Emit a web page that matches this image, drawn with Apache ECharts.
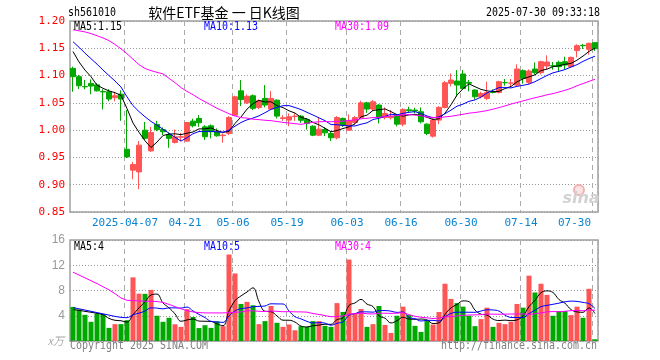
<!DOCTYPE html>
<html><head><meta charset="utf-8">
<script src="https://cdn.jsdelivr.net/npm/echarts@6/dist/echarts.min.js"></script>
<style>html,body{margin:0;padding:0;background:#fff}#c{width:660px;height:360px}</style>
</head><body><div id="c"></div>
<script>
const dates = ['2025-03-24','2025-03-25','2025-03-26','2025-03-27','2025-03-28','2025-03-31','2025-04-01','2025-04-02','2025-04-03','2025-04-07','2025-04-08','2025-04-09','2025-04-10','2025-04-11','2025-04-14','2025-04-15','2025-04-16','2025-04-17','2025-04-18','2025-04-21','2025-04-22','2025-04-23','2025-04-24','2025-04-25','2025-04-28','2025-04-29','2025-04-30','2025-05-06','2025-05-07','2025-05-08','2025-05-09','2025-05-12','2025-05-13','2025-05-14','2025-05-15','2025-05-16','2025-05-19','2025-05-20','2025-05-21','2025-05-22','2025-05-23','2025-05-26','2025-05-27','2025-05-28','2025-05-29','2025-05-30','2025-06-03','2025-06-04','2025-06-05','2025-06-06','2025-06-09','2025-06-10','2025-06-11','2025-06-12','2025-06-13','2025-06-16','2025-06-17','2025-06-18','2025-06-19','2025-06-20','2025-06-23','2025-06-24','2025-06-25','2025-06-26','2025-06-27','2025-06-30','2025-07-01','2025-07-02','2025-07-03','2025-07-04','2025-07-07','2025-07-08','2025-07-09','2025-07-10','2025-07-11','2025-07-14','2025-07-15','2025-07-16','2025-07-17','2025-07-18','2025-07-21','2025-07-22','2025-07-23','2025-07-24','2025-07-25','2025-07-28','2025-07-29','2025-07-30'];

const openP = [1.1132,1.0979,1.0798,1.0857,1.0830,1.0710,1.0704,1.0595,1.0660,0.9650,
0.9266,0.9235,1.0000,0.9620,1.0104,1.0010,0.9920,0.9774,0.9870,0.9800,
1.0165,1.0214,1.0060,1.0080,0.9970,0.9900,0.9940,1.0275,1.0720,1.0500,
1.0630,1.0416,1.0581,1.0386,1.0550,1.0214,1.0184,1.0250,1.0257,1.0196,
1.0073,0.9908,1.0012,0.9939,0.9860,1.0214,1.0000,1.0140,1.0233,1.0500,
1.0386,1.0460,1.0233,1.0226,1.0275,1.0110,1.0373,1.0367,1.0337,1.0110,
0.9890,1.0184,1.0416,1.0857,1.0900,1.1029,1.0875,1.0735,1.0612,1.0580,
1.0704,1.0692,1.0870,1.0860,1.0826,1.1090,1.0875,1.1120,1.1053,1.1175,
1.1181,1.1242,1.1255,1.1163,1.1457,1.1554,1.1481,1.1603];

const closeP = [1.0979,1.0814,1.0795,1.0808,1.0720,1.0700,1.0570,1.0630,1.0570,0.9510,
0.9370,0.9725,0.9850,0.9957,1.0010,0.9970,0.9850,0.9878,0.9880,1.0140,
1.0080,1.0135,0.9880,0.9970,0.9896,0.9910,1.0230,1.0610,1.0560,1.0620,
1.0400,1.0540,1.0460,1.0581,1.0257,1.0226,1.0245,1.0257,1.0180,1.0120,
0.9908,1.0018,0.9950,0.9860,1.0230,1.0090,1.0170,1.0230,1.0500,1.0386,
1.0520,1.0233,1.0306,1.0250,1.0110,1.0380,1.0355,1.0350,1.0153,0.9939,
1.0184,1.0416,1.0869,1.0918,1.0826,1.0765,1.0860,1.0612,1.0673,1.0690,
1.0690,1.0888,1.0870,1.0863,1.1120,1.0949,1.1083,1.1053,1.1255,1.1248,
1.1175,1.1163,1.1193,1.1334,1.1548,1.1548,1.1591,1.1493];

const lowP = [1.0704,1.0753,1.0750,1.0660,1.0710,1.0380,1.0530,1.0530,1.0170,0.9490,
0.9100,0.8917,0.9820,0.9600,0.9980,0.9910,0.9676,0.9755,0.9790,0.9790,
1.0050,1.0060,0.9820,0.9850,0.9880,0.9770,0.9910,1.0257,1.0440,1.0480,
1.0370,1.0386,1.0416,1.0370,1.0214,1.0170,1.0070,1.0170,1.0135,1.0010,
0.9890,0.9890,0.9890,0.9800,0.9830,1.0060,0.9988,1.0110,1.0214,1.0318,
1.0355,1.0122,1.0196,1.0196,1.0070,1.0070,1.0320,1.0306,1.0122,0.9908,
0.9865,1.0110,1.0400,1.0800,1.0612,1.0747,1.0710,1.0563,1.0581,1.0550,
1.0673,1.0673,1.0814,1.0790,1.0808,1.0851,1.0845,1.1022,1.1022,1.1114,
1.1108,1.1083,1.1114,1.1144,1.1334,1.1487,1.1383,1.1450];

const highP = [1.1163,1.1010,1.0920,1.0930,1.0860,1.0750,1.0750,1.0704,1.0730,1.0370,
0.9420,0.9800,1.0150,1.0060,1.0170,1.0050,0.9960,1.0012,0.9950,1.0150,
1.0210,1.0275,1.0090,1.0104,1.0030,0.9940,1.0257,1.0630,1.0918,1.0655,
1.0655,1.0563,1.0826,1.0716,1.0563,1.0275,1.0306,1.0310,1.0275,1.0214,
1.0090,1.0226,1.0050,0.9970,1.0257,1.0233,1.0288,1.0257,1.0539,1.0520,
1.0550,1.0477,1.0416,1.0367,1.0294,1.0400,1.0430,1.0410,1.0416,1.0122,
1.0214,1.0440,1.0900,1.1040,1.1100,1.1100,1.0918,1.0747,1.0704,1.0888,
1.0747,1.0906,1.0937,1.0937,1.1206,1.1114,1.1114,1.1242,1.1273,1.1370,
1.1248,1.1273,1.1346,1.1346,1.1573,1.1579,1.1603,1.1616];

const volume = [5.40,5.00,4.15,3.04,4.37,4.25,2.08,2.67,2.67,3.30,
10.08,7.50,7.47,8.10,4.00,3.04,3.68,2.65,2.24,5.05,
3.80,2.05,2.50,2.08,3.10,2.35,13.70,10.70,5.87,6.20,
5.66,2.67,3.15,5.55,2.88,2.24,2.62,1.70,2.35,2.24,
3.15,3.15,2.40,2.24,6.00,4.60,12.90,4.40,5.07,2.24,
2.67,5.55,2.55,1.28,4.00,5.44,4.10,2.40,1.44,3.30,
2.60,4.60,9.07,6.67,6.00,5.44,4.00,2.35,3.47,5.28,
2.24,2.88,2.67,3.04,5.87,5.28,10.35,7.68,9.07,7.31,
4.00,4.75,4.75,4.10,5.44,3.68,8.27,0.27];

// moving-average values at the left edge (history before the window)
const ma5Head = [1.144,1.125,1.110,1.098];
const ma10Head = [1.162,1.152,1.141,1.131,1.121,1.110,1.100,1.090,1.079];
const ma30Head = [1.184,1.182,1.180,1.177,1.173,1.169,1.164,1.157,1.149,1.140,1.130,1.120,1.113,1.109,1.106,1.103,1.095,1.087,1.078,1.071,1.065,1.058,1.052,1.046,1.040,1.035,1.030,1.026,1.023];
const volMa5Head = [5.0,4.85,4.7,4.55];
const volMa10Head = [5.3,5.1,4.9,4.7,4.5,4.3,4.1,3.9,3.75];
const volMa30Head = [10.9,10.45,10.0,9.55,9.1,8.6,8.1,7.5,6.8,6.45,6.4,6.35,6.3,6.3,6.25,6.1,5.8,5.45,5.1,4.8,4.6,4.5,4.45,4.45,4.45,4.45,4.5,4.55,4.6];

const tickDates = ['2025-04-07','2025-04-21','2025-05-06','2025-05-19','2025-06-03','2025-06-16','2025-06-30','2025-07-14','2025-07-30'];
const tickLabels = ['2025-04-07','04-21','05-06','05-19','06-03','06-16','06-30','07-14','07-30'];

const priceMin = 0.85, priceMax = 1.20, priceStep = 0.05;
const volMin = 0, volMax = 16, volStep = 4;

const maLegend = ['MA5:1.15','MA10:1.13','MA30:1.09'];
const volLegend = ['MA5:4','MA10:5','MA30:4'];

function movingAvg(values, n, head) {
  return values.map(function (v, i) {
    if (i < n - 1) return head[i];
    let s = 0;
    for (let k = i - n + 1; k <= i; k++) s += values[k];
    return +(s / n).toFixed(4);
  });
}

const RED = '#ff5555', GREEN = '#00a800';
const candleData = dates.map((d, i) => [openP[i], closeP[i], lowP[i], highP[i]]);
const volData = volume.map((v, i) => ({ value: v, itemStyle: { color: closeP[i] >= openP[i] ? RED : GREEN } }));

const tickSet = new Set(tickDates);
const showTick = (i, v) => tickSet.has(v);

const MONO = '"DejaVu Sans Mono", monospace';

function txt(x, y, text, fill, align) {
  align = align || 'left';
  return { type: 'text', x: x, y: y, scaleX: 0.83, silent: true, z: 100,
    style: { text: text, fill: fill, font: '12px ' + MONO, align: align, verticalAlign: 'middle', textAlign: align, textVerticalAlign: 'middle' } };
}

const chart = echarts.init(document.getElementById('c'), null, { renderer: 'canvas' });

const lineS = (name, data, color, xi, smooth) => ({
  name: name, type: 'line', data: data, xAxisIndex: xi, yAxisIndex: xi,
  showSymbol: false, symbol: 'none', smooth: smooth || false, z: 5,
  lineStyle: { color: color, width: 1 }, silent: true
});

const splitX = { show: true, interval: showTick, lineStyle: { color: '#aaaaaa', width: 1, type: [5, 4] } };
const splitY = { show: true, lineStyle: { color: '#999999', width: 1, type: [1, 2] } };

chart.setOption({
  animation: false,
  backgroundColor: '#ffffff',
  grid: [
    { left: 70, right: 62, top: 21, height: 191, show: true, borderColor: '#a0a0a0', borderWidth: 1.5, backgroundColor: 'transparent' },
    { left: 70, right: 62, top: 240, height: 101, show: true, borderColor: '#a0a0a0', borderWidth: 1.5, backgroundColor: 'transparent' }
  ],
  xAxis: [
    { type: 'category', gridIndex: 0, data: dates, boundaryGap: true,
      axisLine: { show: false }, axisTick: { show: false },
      axisLabel: { show: true, interval: showTick, formatter: v => tickLabels[tickDates.indexOf(v)],
        color: '#0a84d0', fontFamily: MONO, fontSize: 11, margin: 6, alignMaxLabel: 'right', padding: [0, 4, 0, 0], hideOverlap: false },
      splitLine: splitX },
    { type: 'category', gridIndex: 1, data: dates, boundaryGap: true,
      axisLine: { show: false }, axisTick: { show: false }, axisLabel: { show: false },
      splitLine: splitX }
  ],
  yAxis: [
    { type: 'value', gridIndex: 0, min: priceMin, max: priceMax, interval: priceStep, scale: true,
      axisLine: { show: false }, axisTick: { show: false },
      axisLabel: { color: '#ff0000', fontFamily: MONO, fontSize: 11, margin: 5, formatter: v => v.toFixed(2) },
      splitLine: splitY },
    { type: 'value', gridIndex: 1, min: volMin, max: volMax, interval: volStep,
      axisLine: { show: false }, axisTick: { show: false },
      axisLabel: { color: '#999999', fontFamily: '"Liberation Sans", Arial, sans-serif', fontSize: 12, margin: 5, formatter: v => v === 0 ? '' : String(v) },
      splitLine: splitY }
  ],
  series: [
    { type: 'candlestick', xAxisIndex: 0, yAxisIndex: 0, data: candleData, barWidth: 5, z: 3, silent: true,
      itemStyle: { color: RED, color0: GREEN, borderColor: RED, borderColor0: GREEN, borderColorDoji: GREEN, borderWidth: 1 } },
    lineS('MA5', movingAvg(closeP, 5, ma5Head), '#000000', 0),
    lineS('MA10', movingAvg(closeP, 10, ma10Head), '#0000ff', 0),
    lineS('MA30', movingAvg(closeP, 30, ma30Head), '#ff00ff', 0),
    { type: 'bar', xAxisIndex: 1, yAxisIndex: 1, data: volData, barWidth: 5, z: 3, silent: true },
    lineS('VMA5', movingAvg(volume, 5, volMa5Head), '#000000', 1, 0.4),
    lineS('VMA10', movingAvg(volume, 10, volMa10Head), '#0000ff', 1, 0.4),
    lineS('VMA30', movingAvg(volume, 30, volMa30Head), '#ff00ff', 1)
  ],
  graphic: [
    txt(68, 13, 'sh561010', '#000000'),
    { type: 'text', x: 224, y: 13, silent: true, z: 100,
      style: { text: '软件ETF基金 一 日K线图', fill: '#000000', font: '14px "Noto Sans CJK SC", sans-serif', align: 'center', verticalAlign: 'middle', textAlign: 'center', textVerticalAlign: 'middle' } },
    txt(600, 13, '2025-07-30 09:33:18', '#000000', 'right'),
    txt(74, 26.5, maLegend[0], '#000000'),
    txt(204, 26.5, maLegend[1], '#0000ff'),
    txt(335, 26.5, maLegend[2], '#ff00ff'),
    txt(74, 246.5, volLegend[0], '#000000'),
    txt(204, 246.5, volLegend[1], '#0000ff'),
    txt(335, 246.5, volLegend[2], '#ff00ff'),
    txt(70, 346, 'Copyright 2025 SINA.COM', '#808080'),
    txt(597, 346, 'http://finance.sina.com.cn', '#808080', 'right'),
    { type: 'text', x: 64, y: 341, silent: true, z: 100,
      style: { text: 'x万', fill: '#aaaaaa', font: 'italic 11px "Noto Sans CJK SC", sans-serif', align: 'right', verticalAlign: 'middle', textAlign: 'right', textVerticalAlign: 'middle' } },
    { type: 'circle', shape: { cx: 579, cy: 190, r: 5 }, silent: true, z: 1,
      style: { fill: '#fbe4e4', stroke: '#f2b0b0', lineWidth: 2 } },
    { type: 'text', x: 581, y: 199, silent: true, z: 1,
      style: { text: 'sina', fill: '#d2d2d2', font: 'italic bold 16px "DejaVu Sans", sans-serif', align: 'center', verticalAlign: 'middle', textAlign: 'center', textVerticalAlign: 'middle' } }
  ]
});
</script>
</body></html>
